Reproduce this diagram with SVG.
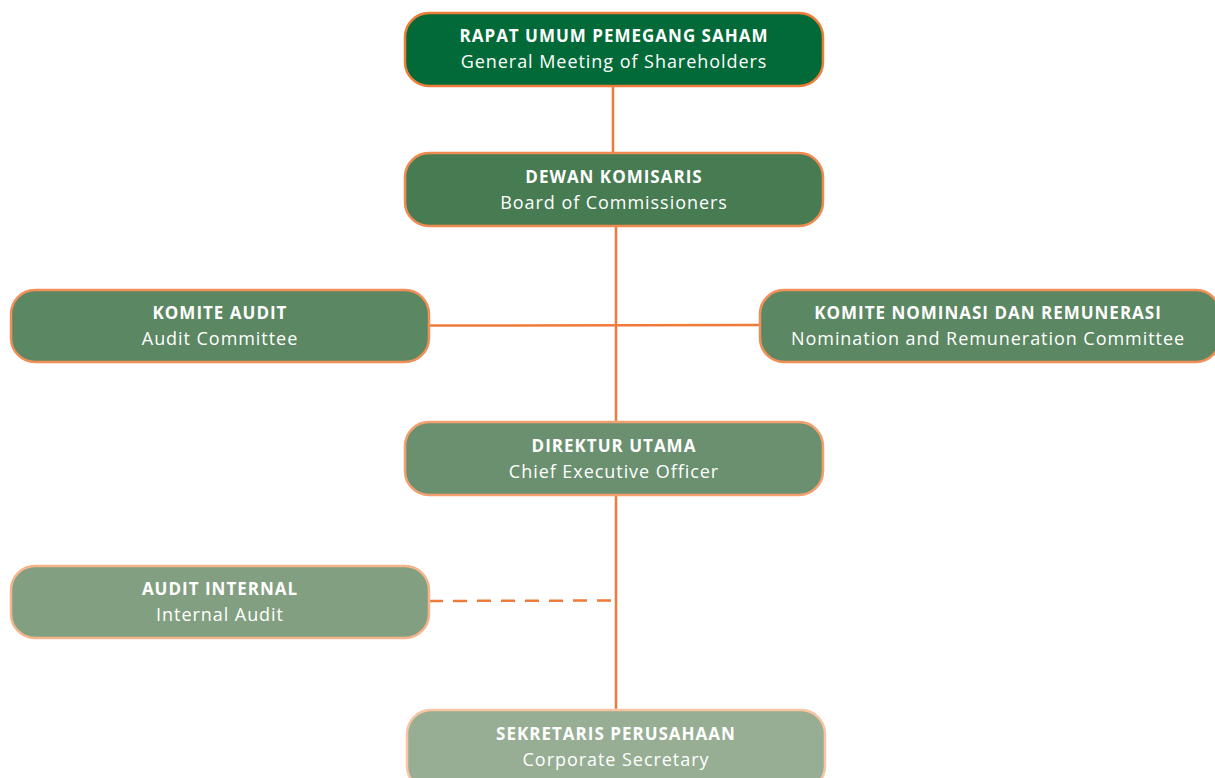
<svg xmlns="http://www.w3.org/2000/svg" width="1215" height="778" viewBox="0 0 1215 778">
<style>
.box{stroke-width:2.5}
.t1{font-family:"Open Sans","Liberation Sans",sans-serif;font-weight:bold;font-size:17px;letter-spacing:1px;fill:#fff;text-anchor:middle}
.t2{font-family:"Open Sans","Liberation Sans",sans-serif;font-size:18px;letter-spacing:0.95px;fill:#fff;text-anchor:middle}
.c{stroke:#EE7B3A;stroke-width:2.5;fill:none}
</style>
<rect width="1215" height="778" fill="#fff"/>
<g id="connectors">
<line class="c" x1="613" y1="86" x2="613" y2="152"/>
<line class="c" x1="616" y1="226" x2="616" y2="421"/>
<line class="c" x1="429" y1="325.5" x2="759" y2="325"/>
<line class="c" x1="616" y1="495" x2="616" y2="709"/>
<line class="c" x1="429" y1="601" x2="615" y2="600.5" stroke-dasharray="14,10"/>
</g>
<g id="rups">
<rect class="box" x="405" y="13" width="418" height="73" rx="24" fill="#016A38" stroke="#EE7D3A"/>
<text class="t1" x="614" y="42">RAPAT UMUM PEMEGANG SAHAM</text>
<text class="t2" x="614" y="68">General Meeting of Shareholders</text>
</g>
<g id="dekom">
<rect class="box" x="405" y="153" width="418" height="73" rx="24" fill="#477B52" stroke="#F08A50"/>
<text class="t1" x="614" y="183">DEWAN KOMISARIS</text>
<text class="t2" x="614" y="209">Board of Commissioners</text>
</g>
<g id="komite-audit">
<rect class="box" x="11" y="290" width="418" height="72" rx="24" fill="#5B8762" stroke="#F08F58"/>
<text class="t1" x="220" y="319">KOMITE AUDIT</text>
<text class="t2" x="220" y="345">Audit Committee</text>
</g>
<g id="knr">
<rect class="box" x="760" y="290" width="460" height="72" rx="24" fill="#5B8762" stroke="#F08F58"/>
<text class="t1" x="988" y="319">KOMITE NOMINASI DAN REMUNERASI</text>
<text class="t2" x="988" y="345">Nomination and Remuneration Committee</text>
</g>
<g id="dirut">
<rect class="box" x="405" y="422" width="418" height="73" rx="24" fill="#6A9070" stroke="#F3A070"/>
<text class="t1" x="614" y="452">DIREKTUR UTAMA</text>
<text class="t2" x="614" y="478">Chief Executive Officer</text>
</g>
<g id="audit-internal">
<rect class="box" x="11" y="566" width="418" height="72" rx="24" fill="#82A081" stroke="#F5B58C"/>
<text class="t1" x="220" y="595">AUDIT INTERNAL</text>
<text class="t2" x="220" y="621">Internal Audit</text>
</g>
<g id="corsec">
<rect class="box" x="407" y="710" width="418" height="80" rx="24" fill="#97AE95" stroke="#F8C5A2"/>
<text class="t1" x="616" y="740">SEKRETARIS PERUSAHAAN</text>
<text class="t2" x="616" y="766">Corporate Secretary</text>
</g>
</svg>
